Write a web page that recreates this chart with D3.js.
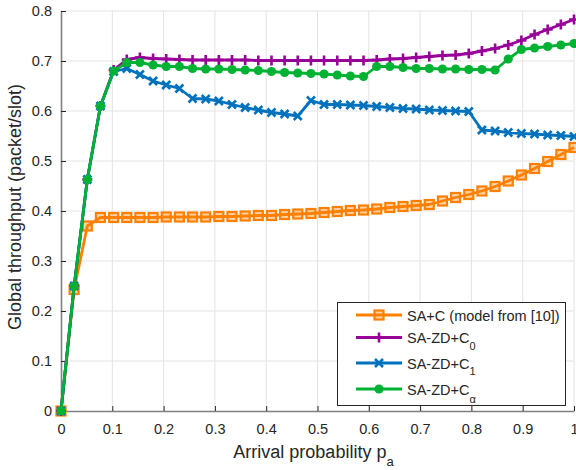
<!DOCTYPE html>
<html>
<head>
<meta charset="utf-8">
<script src="https://cdn.jsdelivr.net/npm/d3@7/dist/d3.min.js"></script>
<style>
  body { margin: 0; background: #fff; }
  text { font-family: "Liberation Sans", Arial, Helvetica, sans-serif; fill: #262626; }
</style>
</head>
<body>
<div id="chart"></div>
<script>
// arrival probability p_a (40 points from 0 to 1)
var pa = [0, 0.0256, 0.0513, 0.0769, 0.1026, 0.1282, 0.1538, 0.1795, 0.2051, 0.2308,
          0.2564, 0.2821, 0.3077, 0.3333, 0.3590, 0.3846, 0.4103, 0.4359, 0.4615, 0.4872,
          0.5128, 0.5385, 0.5641, 0.5897, 0.6154, 0.6410, 0.6667, 0.6923, 0.7179, 0.7436,
          0.7692, 0.7949, 0.8205, 0.8462, 0.8718, 0.8974, 0.9231, 0.9487, 0.9744, 1];

// global throughput for each scheme
var saC = [0, 0.243, 0.37, 0.387, 0.387, 0.387, 0.387, 0.387, 0.388, 0.388,
           0.388, 0.388, 0.389, 0.389, 0.39, 0.391, 0.391, 0.393, 0.394, 0.395,
           0.397, 0.399, 0.401, 0.402, 0.404, 0.407, 0.409, 0.411, 0.413, 0.42,
           0.427, 0.433, 0.44, 0.449, 0.46, 0.472, 0.485, 0.499, 0.513, 0.527];
var zdC0 = [0, 0.25, 0.463, 0.61, 0.682, 0.703, 0.707, 0.705, 0.704, 0.703,
            0.702, 0.702, 0.702, 0.702, 0.702, 0.701, 0.701, 0.701, 0.701, 0.701,
            0.701, 0.701, 0.701, 0.701, 0.702, 0.704, 0.705, 0.707, 0.709, 0.711,
            0.712, 0.715, 0.72, 0.725, 0.732, 0.741, 0.753, 0.763, 0.773, 0.783];
var zdC1 = [0, 0.25, 0.463, 0.61, 0.679, 0.685, 0.673, 0.66, 0.652, 0.645,
            0.625, 0.624, 0.62, 0.613, 0.607, 0.602, 0.597, 0.594, 0.59, 0.621,
            0.613, 0.613, 0.612, 0.611, 0.609, 0.607, 0.605, 0.604, 0.602, 0.601,
            0.6, 0.599, 0.562, 0.56, 0.557, 0.555, 0.554, 0.552, 0.551, 0.549];
var zdCa = [0, 0.25, 0.463, 0.61, 0.68, 0.697, 0.697, 0.692, 0.689, 0.689,
            0.685, 0.684, 0.684, 0.683, 0.682, 0.681, 0.679, 0.677, 0.676, 0.675,
            0.674, 0.672, 0.67, 0.669, 0.689, 0.689, 0.687, 0.685, 0.685, 0.684,
            0.684, 0.683, 0.683, 0.682, 0.704, 0.723, 0.726, 0.729, 0.732, 0.735];

var xTicks = [0, 0.1, 0.2, 0.3, 0.4, 0.5, 0.6, 0.7, 0.8, 0.9, 1];
var yTicks = [0, 0.1, 0.2, 0.3, 0.4, 0.5, 0.6, 0.7, 0.8];

var svgWidth = 576;
var svgHeight = 470;
var margin = { top: 11, right: 2, bottom: 59, left: 61 };
var w = svgWidth - margin.left - margin.right;
var h = svgHeight - margin.top - margin.bottom;

var svg = d3.select('#chart')
    .append('svg')
    .attr('width', svgWidth)
    .attr('height', svgHeight);

var chart = svg.append('g')
    .attr('transform', 'translate(' + margin.left + ',' + margin.top + ')');

var xScale = d3.scaleLinear().domain([0, 1]).range([0, w]);
var yScale = d3.scaleLinear().domain([0, 0.8]).range([h, 0]);

// grid
chart.append('g')
    .selectAll('line')
    .data(xTicks.slice(1))
    .enter().append('line')
    .attr('x1', d => xScale(d)).attr('x2', d => xScale(d))
    .attr('y1', 0).attr('y2', h)
    .attr('stroke', '#e3e3e3').attr('stroke-width', 1);

chart.append('g')
    .selectAll('line')
    .data(yTicks.slice(1))
    .enter().append('line')
    .attr('x1', 0).attr('x2', w)
    .attr('y1', d => yScale(d)).attr('y2', d => yScale(d))
    .attr('stroke', '#e3e3e3').attr('stroke-width', 1);

// axes (ticks point inward, like matlab)
var xAxis = d3.axisBottom(xScale)
    .tickValues(xTicks)
    .tickFormat(d3.format('~g'))
    .tickSizeInner(-5).tickSizeOuter(0).tickPadding(13);
var yAxis = d3.axisLeft(yScale)
    .tickValues(yTicks)
    .tickFormat(d3.format('~g'))
    .tickSizeInner(-5).tickSizeOuter(0).tickPadding(9);

var gx = chart.append('g')
    .attr('transform', 'translate(0,' + h + ')')
    .call(xAxis);
var gy = chart.append('g')
    .call(yAxis);

[gx, gy].forEach(function (g) {
    g.select('.domain').attr('stroke', '#808080').attr('stroke-width', 1.6);
    g.selectAll('.tick line').attr('stroke', '#262626');
    g.selectAll('.tick text')
        .attr('fill', '#262626')
        .style('font-size', '14.5px')
        .style('font-family', '"Liberation Sans", Arial, sans-serif');
});

// axis labels
svg.append('text')
    .attr('x', margin.left + w / 2 - 4)
    .attr('y', 458)
    .attr('text-anchor', 'middle')
    .style('font-size', '18px')
    .text('Arrival probability p')
  .append('tspan')
    .attr('dy', 8)
    .style('font-size', '13px')
    .text('a');

svg.append('text')
    .attr('transform', 'translate(21,' + (margin.top + h / 2 - 4) + ') rotate(-90)')
    .attr('text-anchor', 'middle')
    .style('font-size', '18px')
    .text('Global throughput (packet/slot)');

// series
var series = [
    { name: 'saC', values: saC, color: '#ff8000', marker: 'square' },
    { name: 'zdC0', values: zdC0, color: '#990099', marker: 'plus' },
    { name: 'zdC1', values: zdC1, color: '#0072bd', marker: 'cross' },
    { name: 'zdCa', values: zdCa, color: '#00b233', marker: 'circle' }
];

var line = d3.line()
    .x(d => xScale(d[0]))
    .y(d => yScale(d[1]));

function drawMarker(g, type, color) {
    if (type == 'square') {
        g.append('rect')
            .attr('x', -4.5).attr('y', -4.5)
            .attr('width', 9).attr('height', 9)
            .attr('fill', 'rgba(255,128,0,0.35)')
            .attr('stroke', color).attr('stroke-width', 2.2);
    } else if (type == 'plus') {
        g.append('path')
            .attr('d', 'M-5,0H5M0,-5V5')
            .attr('stroke', color).attr('stroke-width', 2.6);
    } else if (type == 'cross') {
        g.append('path')
            .attr('d', 'M-4,-4L4,4M-4,4L4,-4')
            .attr('stroke', color).attr('stroke-width', 2.6);
    } else {
        g.append('circle')
            .attr('r', 4.6)
            .attr('fill', color);
    }
}

series.forEach(function (s) {
    var pts = pa.map((x, i) => [x, s.values[i]]);
    var g = chart.append('g').attr('class', s.name);
    g.append('path')
        .attr('d', line(pts))
        .attr('fill', 'none')
        .attr('stroke', s.color)
        .attr('stroke-width', 2.8)
        .attr('stroke-linejoin', 'round');
    g.selectAll('.m')
        .data(pts)
        .enter().append('g')
        .attr('class', 'm')
        .attr('transform', d => 'translate(' + xScale(d[0]) + ',' + yScale(d[1]) + ')')
        .each(function () { drawMarker(d3.select(this), s.marker, s.color); });
});

// legend
var legend = svg.append('g');
legend.append('rect')
    .attr('x', 337.5).attr('y', 302.5)
    .attr('width', 228).attr('height', 103)
    .attr('fill', '#fff')
    .attr('stroke', '#262626').attr('stroke-width', 1);

var legendRows = [
    { label: 'SA+C (model from [10])', sub: '', y: 315 },
    { label: 'SA-ZD+C', sub: '0', y: 337.5 },
    { label: 'SA-ZD+C', sub: '1', y: 363 },
    { label: 'SA-ZD+C', sub: '\u03b1', y: 389 }
];

legendRows.forEach(function (r, i) {
    var s = series[i];
    legend.append('line')
        .attr('x1', 356).attr('x2', 402)
        .attr('y1', r.y).attr('y2', r.y)
        .attr('stroke', s.color).attr('stroke-width', 2.8);
    var mg = legend.append('g').attr('transform', 'translate(379,' + r.y + ')');
    drawMarker(mg, s.marker, s.color);
    var t = legend.append('text')
        .attr('x', 407)
        .attr('y', r.y + 5.5)
        .style('font-size', '14.5px')
        .text(r.label);
    if (r.sub) {
        t.append('tspan')
            .attr('dy', r.sub == '\u03b1' ? 8 : 6.5)
            .style('font-size', '11px')
            .text(r.sub);
    }
});
</script>
</body>
</html>
